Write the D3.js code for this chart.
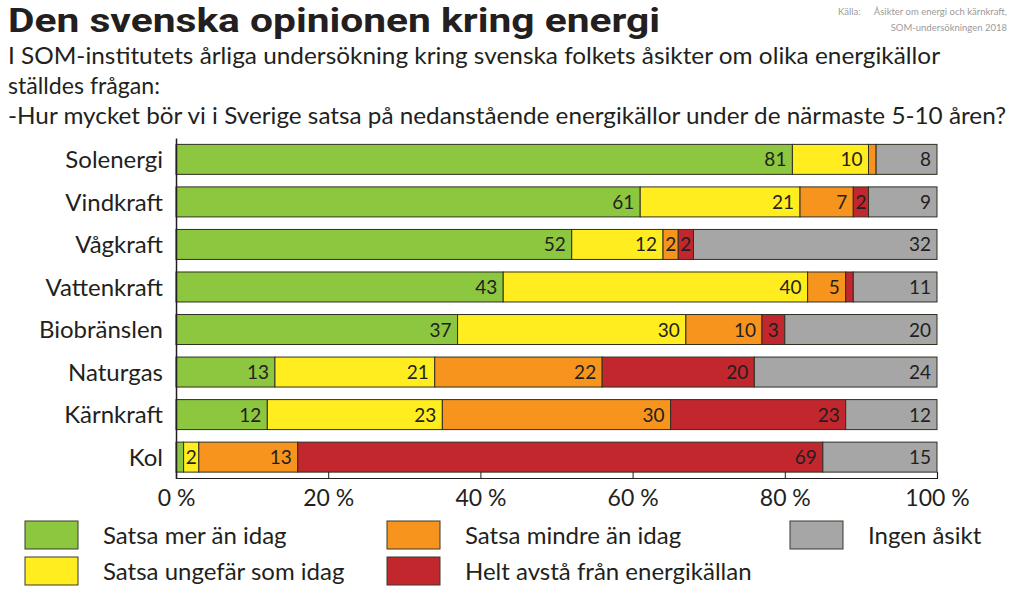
<!DOCTYPE html>
<html>
<head>
<meta charset="utf-8">
<script src="https://cdn.jsdelivr.net/npm/d3@7"></script>
<style>
  html, body { margin: 0; padding: 0; background: #fff; }
  svg { display: block; }
  text { font-family: Lato, "Open Sans", sans-serif; fill: #231f20; }
</style>
</head>
<body>
<svg id="chart" width="1024" height="595"></svg>
<script>
// ---- Data ----
const categories = ["Solenergi", "Vindkraft", "Vågkraft", "Vattenkraft", "Biobränslen", "Naturgas", "Kärnkraft", "Kol"];
const seriesKeys = ["mer", "ungefar", "mindre", "avsta", "ingen"];
const seriesNames = ["Satsa mer än idag", "Satsa ungefär som idag", "Satsa mindre än idag", "Helt avstå från energikällan", "Ingen åsikt"];
const seriesColors = ["#8dc63f", "#ffed1f", "#f7941d", "#c1272d", "#a6a6a6"];
const satsaMer      = [81, 61, 52, 43, 37, 13, 12, 1];
const satsaUngefar  = [10, 21, 12, 40, 30, 21, 23, 2];
const satsaMindre   = [ 1,  7,  2,  5, 10, 22, 30, 13];
const heltAvsta     = [ 0,  2,  2,  1,  3, 20, 23, 69];
const ingenAsikt    = [ 8,  9, 32, 11, 20, 24, 12, 15];
const xTicks = [0, 20, 40, 60, 80, 100];
const titleText = "Den svenska opinionen kring energi";
const subtitleLines = [
  "I SOM-institutets årliga undersökning kring svenska folkets åsikter om olika energikällor",
  "ställdes frågan:",
  "-Hur mycket bör vi i Sverige satsa på nedanstående energikällor under de närmaste 5-10 åren?"
];
const sourceLabel = "Källa:";
const sourceLines = ["Åsikter om energi och kärnkraft,", "SOM-undersökningen 2018"];

// ---- Build table ----
const table = categories.map((c, i) => ({
  cat: c,
  mer: satsaMer[i], ungefar: satsaUngefar[i], mindre: satsaMindre[i],
  avsta: heltAvsta[i], ingen: ingenAsikt[i]
}));

const svg = d3.select("#chart");

// stretch/shrink a text element to a target width
function fit(sel, w) {
  sel.attr("textLength", w).attr("lengthAdjust", "spacingAndGlyphs");
  return sel;
}

// ---- Scales ----
const x = d3.scaleLinear().domain([0, 100]).range([176, 937]);
const y = d3.scaleBand().domain(categories).range([138, 478.5]).paddingInner(0.295).paddingOuter(0.15);
const color = d3.scaleOrdinal().domain(seriesKeys).range(seriesColors);

// ---- Title / subtitle ----
fit(svg.append("text").attr("x", 8).attr("y", 32)
  .attr("font-size", 34).attr("font-weight", 700)
  .style("font-family", "Roboto, Lato, sans-serif")
  .text(titleText), 652);

const subW = [932, 152, 998];
subtitleLines.forEach((t, i) => {
  fit(svg.append("text").attr("x", 8).attr("y", 64 + i * 30)
    .attr("font-size", 24).text(t), subW[i]);
});

svg.append("text").attr("x", 838).attr("y", 15).attr("font-size", 9.5)
  .style("fill", "#9b9b9b").text(sourceLabel);
sourceLines.forEach((t, i) => {
  svg.append("text").attr("x", 1007).attr("y", 15 + i * 16).attr("font-size", 9.5)
    .attr("text-anchor", "end").style("fill", "#9b9b9b")
    .text(t);
});

// ---- Stack ----
const stacked = d3.stack().keys(seriesKeys)(table);

const layers = svg.append("g").selectAll("g").data(stacked).join("g")
  .attr("fill", d => color(d.key));

layers.selectAll("rect").data(d => d.map(v => ({ v, key: d.key })))
  .join("rect")
  .attr("x", d => x(d.v[0]))
  .attr("y", d => y(d.v.data.cat))
  .attr("width", d => Math.max(0, x(d.v[1]) - x(d.v[0])))
  .attr("height", y.bandwidth())
  .attr("stroke", "#2f2f22").attr("stroke-width", 1);

// value labels
layers.selectAll("text").data(d => d.map(v => ({ v, key: d.key })).filter(o => o.v.data[o.key] >= 2))
  .join("text")
  .attr("font-size", 19)
  .attr("x", d => {
    const w = x(d.v[1]) - x(d.v[0]);
    return w < 30 ? (x(d.v[0]) + x(d.v[1])) / 2 : x(d.v[1]) - 6;
  })
  .attr("text-anchor", d => (x(d.v[1]) - x(d.v[0])) < 30 ? "middle" : "end")
  .attr("y", d => y(d.v.data.cat) + y.bandwidth() / 2 + 7)
  .text(d => d.v.data[d.key]);

// ---- Axes ----
const yAxis = svg.append("g").attr("transform", "translate(176,0)")
  .call(d3.axisLeft(y).tickSize(0).tickPadding(13));
yAxis.select(".domain").attr("stroke", "#231f20").attr("stroke-width", 1.5);
yAxis.selectAll("text").attr("font-size", 24).attr("font-family", null)
  .attr("dy", "0.36em").style("fill", "#231f20");

const xAxis = svg.append("g").attr("transform", "translate(0,478)")
  .call(d3.axisBottom(x).tickValues(xTicks).tickSize(-6).tickPadding(12)
    .tickFormat(d => d + " %"));
xAxis.select(".domain").attr("stroke", "#231f20").attr("stroke-width", 1.2);
xAxis.selectAll(".tick line").attr("stroke", "#231f20");
xAxis.selectAll("text").attr("font-size", 23).attr("font-family", null).style("fill", "#231f20");

// ---- Legend ----
const legendCols = [25, 387, 790];
const legendRows = [521, 557];
const legendPos = [[0, 0], [0, 1], [1, 0], [1, 1], [2, 0]];
const legend = svg.append("g");
seriesKeys.forEach((k, i) => {
  const [c, r] = legendPos[i];
  const gx = legendCols[c], gy = legendRows[r];
  legend.append("rect").attr("x", gx).attr("y", gy).attr("width", 53).attr("height", 28)
    .attr("fill", color(k)).attr("stroke", "#3a3a2a").attr("stroke-width", 1);
  legend.append("text").attr("x", gx + 78).attr("y", gy + 23).attr("font-size", 24)
    .text(seriesNames[i]);
});
</script>
</body>
</html>
